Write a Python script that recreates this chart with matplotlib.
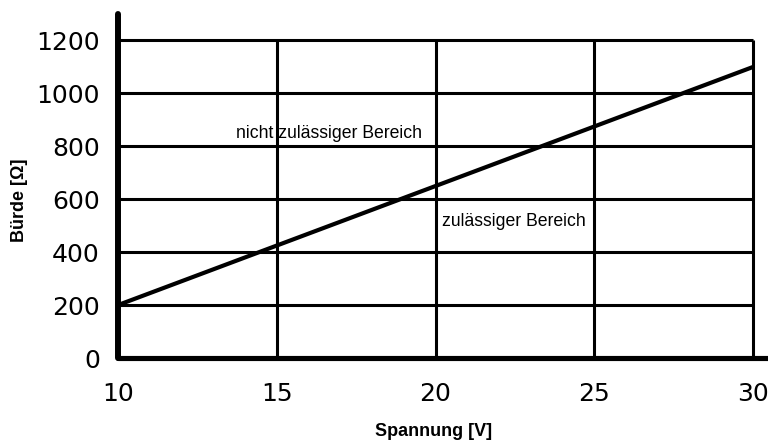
import matplotlib
matplotlib.use('Agg')
import matplotlib.pyplot as plt

# Data
spannung = [10, 30]
buerde = [200, 1100]
x_grid = [15, 20, 25, 30]
y_grid = [200, 400, 600, 800, 1000, 1200]
x_ticks = [10, 15, 20, 25, 30]
y_ticks = [0, 200, 400, 600, 800, 1000, 1200]

fig = plt.figure(figsize=(7.68, 4.43), dpi=100)
ax = fig.add_axes([118 / 768, 85 / 443, 651 / 768, 344 / 443])

ax.hlines(y_grid, 10, 30, colors='black', linewidth=2.2, zorder=1)
ax.vlines(x_grid, 0, 1200, colors='black', linewidth=2.2, zorder=1)
ax.plot(spannung, buerde, color='black', linewidth=3, zorder=3, solid_capstyle='butt')

ax.set_xlim(10, 30.5)
ax.set_ylim(0, 1300)
ax.set_xticks(x_ticks)
ax.set_yticks(y_ticks)
ax.tick_params(axis='both', length=0, labelsize=18)
ax.tick_params(axis='x', pad=17)
ax.tick_params(axis='y', pad=13)

for s in ['top', 'right']:
    ax.spines[s].set_visible(False)
ax.spines['left'].set_linewidth(4.3)
ax.spines['bottom'].set_linewidth(3.7)
for s in ['left', 'bottom']:
    ax.spines[s].set_capstyle('round')
    ax.spines[s].set_zorder(4)

ax.text(13.72, 848, 'nicht zulässiger Bereich', fontsize=12.7,
        family='Liberation Sans', va='center', ha='left', zorder=5)
ax.text(20.2, 515, 'zulässiger Bereich', fontsize=12.7,
        family='Liberation Sans', va='center', ha='left', zorder=5)

fig.text(20 / 768, 1 - 200 / 443, 'Bürde [Ω]', rotation=90, fontsize=13,
         fontweight='bold', family='Liberation Sans', ha='center', va='center')
fig.text(434 / 768, 1 - 431 / 443, 'Spannung [V]', fontsize=13,
         fontweight='bold', family='Liberation Sans', ha='center', va='center')

fig.savefig('out.png', dpi=100)
